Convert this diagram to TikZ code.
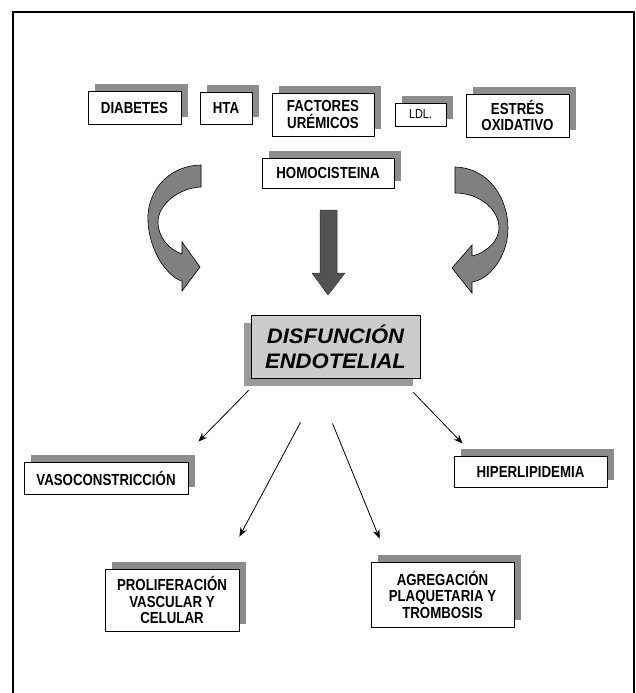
\documentclass[tikz,border=0pt]{standalone}
\usepackage{fontspec}
\setmainfont{Liberation Sans}[FakeStretch=0.83]
\newfontfamily\titlefont{Liberation Sans}[FakeStretch=1.05]
\usetikzlibrary{arrows.meta,calc,shadows}

\begin{document}
\begin{tikzpicture}[x=1pt, y=-1pt,
  box/.style={draw=black, line width=0.8pt, fill=white, inner sep=0pt, align=center,
    font=\fontsize{16}{16.5}\selectfont\bfseries,
    drop shadow={shadow xshift=7pt, shadow yshift=7pt, fill=black!45, opacity=1}},
  mainbox/.style={draw=black, line width=0.8pt, fill=black!20, inner sep=0pt, align=center,
    font=\titlefont\fontsize{21}{25}\selectfont\bfseries\itshape,
    drop shadow={shadow xshift=-7pt, shadow yshift=-8pt, fill=black!40, opacity=1}},
  conn/.style={line width=0.8pt, -{Stealth[length=9pt, width=7pt]}},
  curvy/.style={fill=black!50, draw=black, line width=0.6pt},
  bigarrow/.style={fill=black!68, draw=black!80, line width=0.5pt}]
\useasboundingbox (0,0) rectangle (636,693);
\fill[white] (0,0) rectangle (636,693);
% frame
\draw[line width=2.5pt] (13,693) -- (13,12) -- (634,12) -- (634,693);

% risk factors
\node[box, minimum width=93pt, minimum height=33pt] (diab) at (134.5,107.5) {DIABETES};
\node[box, minimum width=52pt, minimum height=32pt] (hta) at (226,108) {HTA};
\node[box, minimum width=102pt, minimum height=43pt] (urem) at (323,114.5) {FACTORES\\UR\'EMICOS};
\node[box, minimum width=51pt, minimum height=23pt,
  font=\fontsize{13}{15}\selectfont] (ldl) at (420.5,114.5) {LDL.};
\node[box, minimum width=103pt, minimum height=43pt] (estres) at (517.5,115.5) {ESTR\'ES\\OXIDATIVO};
\node[box, minimum width=132pt, minimum height=30pt] (homo) at (328,173) {HOMOCISTEINA};

% curved arrows
\filldraw[curvy] (201,165) .. controls (165,166) and (146,195) .. (148,222)
  .. controls (150,255) and (170,278) .. (182,281) -- (182,291) -- (200,267)
  -- (182,242) -- (182,254) .. controls (170,250) and (158,238) .. (158,222)
  .. controls (158,205) and (178,188) .. (201,187) -- cycle;
\filldraw[curvy] (455,167) .. controls (490,168) and (508,200) .. (508,228)
  .. controls (508,258) and (488,280) .. (472,282) -- (472,293) -- (452,268)
  -- (472,245) -- (472,256) .. controls (488,252) and (499,240) .. (499,228)
  .. controls (499,210) and (480,193) .. (455,193) -- cycle;
% big arrow
\filldraw[bigarrow] (320,210) -- (337,210) -- (337,273) -- (345,273) -- (328,295)
  -- (312,273) -- (320,273) -- cycle;

\node[mainbox, minimum width=169pt, minimum height=63pt] (dis) at (335.5,346.5)
  {DISFUNCI\'ON\\ENDOTELIAL};

% consequences
\node[box, minimum width=164pt, minimum height=32pt] (vaso) at (106,478) {VASOCONSTRICCI\'ON};
\node[box, minimum width=153pt, minimum height=31pt] (hiper) at (530.5,471.5) {HIPERLIPIDEMIA};
\node[box, minimum width=134pt, minimum height=62pt] (prolif) at (172,600)
  {PROLIFERACI\'ON\\VASCULAR Y\\CELULAR};
\node[box, minimum width=143pt, minimum height=65pt] (agreg) at (442.5,594.5)
  {AGREGACI\'ON\\PLAQUETARIA Y\\TROMBOSIS};

\draw[conn] ($(dis.south west)+(-2,12)$) -- ($(vaso.north east)+(10,-20)$);
\draw[conn] ($(dis.south)+(-35,44)$) -- ($(prolif.north east)+(0,-32)$);
\draw[conn] ($(dis.south)+(-3,45)$) -- ($(agreg.north west)+(9,-23)$);
\draw[conn] ($(dis.south east)+(-7,14)$) -- ($(hiper.north west)+(9,-12)$);
\end{tikzpicture}
\end{document}
